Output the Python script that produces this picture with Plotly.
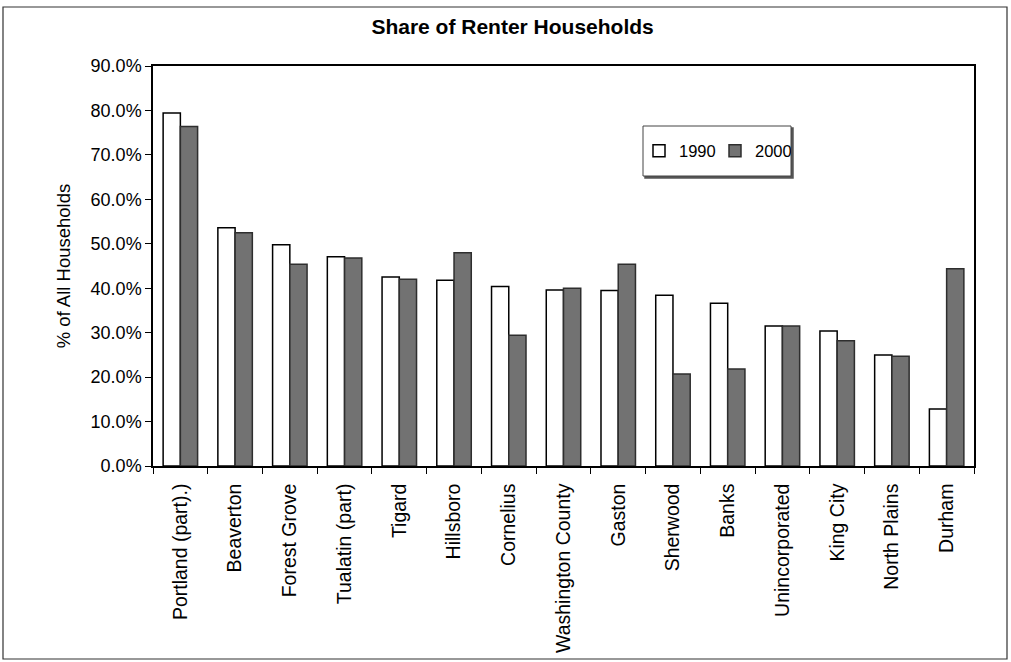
import plotly.graph_objects as go

categories = ["Portland (part).)", "Beaverton", "Forest Grove", "Tualatin (part)", "Tigard",
              "Hillsboro", "Cornelius", "Washington County", "Gaston", "Sherwood", "Banks",
              "Unincorporated", "King City", "North Plains", "Durham"]
share_1990 = [79.4, 53.6, 49.8, 47.1, 42.5, 41.8, 40.4, 39.6, 39.5, 38.4, 36.6, 31.5, 30.4, 25.0, 12.8]
share_2000 = [76.4, 52.5, 45.4, 46.8, 42.0, 48.0, 29.4, 40.0, 45.4, 20.7, 21.8, 31.5, 28.2, 24.7, 44.4]
y_ticks = [0, 10, 20, 30, 40, 50, 60, 70, 80, 90]
y_tick_labels = [f"{v:.1f}%" for v in y_ticks]

FONT = "Liberation Sans, Arial, sans-serif"

fig = go.Figure()
fig.add_trace(go.Bar(name="1990", x=categories, y=share_1990,
                     marker=dict(color="white", line=dict(color="black", width=1.5))))
fig.add_trace(go.Bar(name="2000", x=categories, y=share_2000,
                     marker=dict(color="#727272", line=dict(color="#2e2e2e", width=1.5))))

W, H = 1011, 662
L, R, T, B = 153, 37, 66, 196
PW, PH = W - L - R, H - T - B

def px(x):
    return (x - L) / PW

def py(y):
    return (H - B - y) / PH

fig.update_layout(
    width=W, height=H,
    margin=dict(l=L, r=R, t=T, b=B, autoexpand=False),
    paper_bgcolor="white", plot_bgcolor="white",
    barmode="group", bargap=0.37, bargroupgap=0.0,
    font=dict(family=FONT, size=18, color="black"),
    title=dict(text="<b>Share of Renter Households</b>", x=0.507, xanchor="center",
               y=1 - 27 / H, yanchor="middle", font=dict(family=FONT, size=21, color="black")),
    showlegend=True,
    legend=dict(orientation="h", x=px(639), xanchor="left", y=py(151), yanchor="middle",
                bgcolor="rgba(0,0,0,0)", borderwidth=0, font=dict(size=16.5),
                itemwidth=30, traceorder="normal", entrywidth=31),
    shapes=[
        # legend box shadow
        dict(type="rect", xref="paper", yref="paper", x0=px(645), x1=px(793), y0=py(178), y1=py(128),
             line=dict(color="#555555", width=1.5), fillcolor="#555555", layer="below"),
        dict(type="rect", xref="paper", yref="paper", x0=px(643), x1=px(791), y0=py(176), y1=py(126),
             line=dict(color="#444444", width=1), fillcolor="white", layer="below"),
        # outer frame
        dict(type="rect", xref="paper", yref="paper",
             x0=px(3), x1=px(1007), y0=py(659), y1=py(7),
             line=dict(color="#333333", width=1.2), fillcolor="rgba(0,0,0,0)"),
    ],
)

fig.update_yaxes(range=[0, 90], tickvals=y_ticks, ticktext=y_tick_labels,
                 ticks="outside", ticklen=6, tickcolor="black", tickfont=dict(size=18),
                 showline=True, linecolor="black", linewidth=1.5, mirror=True,
                 showgrid=False, zeroline=False, automargin=False,
                 title=dict(text="% of All Households", font=dict(size=18.5), standoff=15))
fig.update_xaxes(tickangle=-90, ticks="outside", ticklen=6, tickcolor="black",
                 tickson="boundaries", tickfont=dict(size=19.5), ticklabelstandoff=8,
                 showline=True, linecolor="black", linewidth=1.5, mirror=True,
                 showgrid=False, automargin=False)

fig.write_html("out.html", config={"displayModeBar": False},
               post_script="document.body.style.margin='0';document.body.style.overflow='hidden';")
